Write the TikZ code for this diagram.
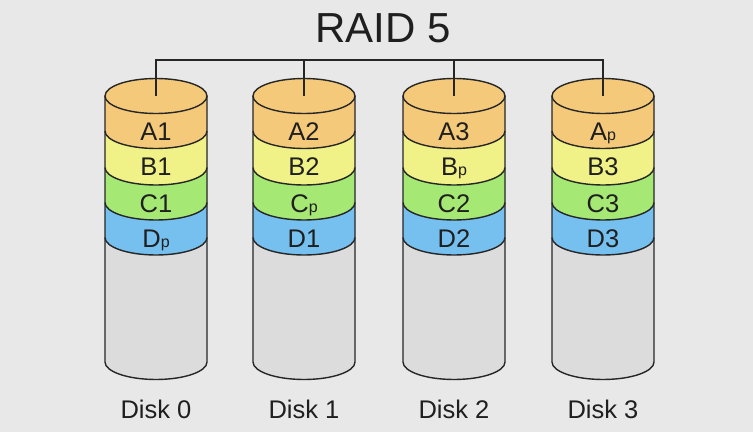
\documentclass[tikz,border=0pt]{standalone}
\usepackage{fontspec}
\setmainfont{Liberation Sans}
\definecolor{bgcol}{RGB}{232,232,232}
\definecolor{acol}{RGB}{244,201,122}
\definecolor{bcol}{RGB}{240,241,134}
\definecolor{ccol}{RGB}{166,232,116}
\definecolor{dcol}{RGB}{118,192,240}
\definecolor{ecol}{RGB}{220,220,220}
\definecolor{linecol}{RGB}{38,38,38}
\newcommand{\pp}{{\fontsize{16}{16}\selectfont p}}
\tikzset{
  rim/.style={draw=linecol,line width=1.4pt},
  lbl/.style={anchor=base,font=\fontsize{25.5}{25.5}\selectfont,text=black!88},
}
\begin{document}
\begin{tikzpicture}[x=1pt,y=1pt]
\fill[bgcol] (0,0) rectangle (753,432);
\useasboundingbox (0,0) rectangle (753,432);
\node[anchor=base,font=\fontsize{42}{42}\selectfont,text=black!88] (title) at (383,389) {RAID 5};
\coordinate (bus) at (0,372);

\foreach \x/\dn/\la/\lb/\lc/\ld in {156/0/A1/B1/C1/D\pp, 304/1/A2/B2/C\pp/D1,
  454/2/A3/B\pp/C2/D2, 603/3/A\pp/B3/C3/D3} {
  \coordinate (top\dn) at (\x,336);
  \fill[ecol] (\x-51,336) -- (\x-51,70) arc[start angle=180,end angle=360,x radius=51,y radius=17.5]
    -- (\x+51,336) -- cycle;
  \foreach \c/\yt/\yb in {dcol/229.5/194.5, ccol/264.5/229.5, bcol/301/264.5, acol/336/301} {
    \fill[\c] (\x-51,\yt) -- (\x-51,\yb) arc[start angle=180,end angle=360,x radius=51,y radius=17.5]
      -- (\x+51,\yt) arc[start angle=0,end angle=-180,x radius=51,y radius=17.5] -- cycle;
    \draw[rim] (\x-51,\yb) arc[start angle=180,end angle=360,x radius=51,y radius=17.5];
  }
  \path[fill=acol,rim] (top\dn) ellipse[x radius=51,y radius=17.5];
  \draw[rim] (\x-51,336) -- (\x-51,70) arc[start angle=180,end angle=360,x radius=51,y radius=17.5]
    -- (\x+51,336);
  \node[lbl] (a\dn) at (\x,291.5) {\la};
  \node[lbl] (b\dn) at (\x,256) {\lb};
  \node[lbl] (c\dn) at (\x,220) {\lc};
  \node[lbl] (d\dn) at (\x,184.5) {\ld};
  \node[lbl] (disk\dn) at (\x,14) {Disk \dn};
}

\draw[rim] (top0) |- (top3 |- bus) -- (top3);
\draw[rim] (top1) -- (top1 |- bus);
\draw[rim] (top2) -- (top2 |- bus);
\end{tikzpicture}
\end{document}
